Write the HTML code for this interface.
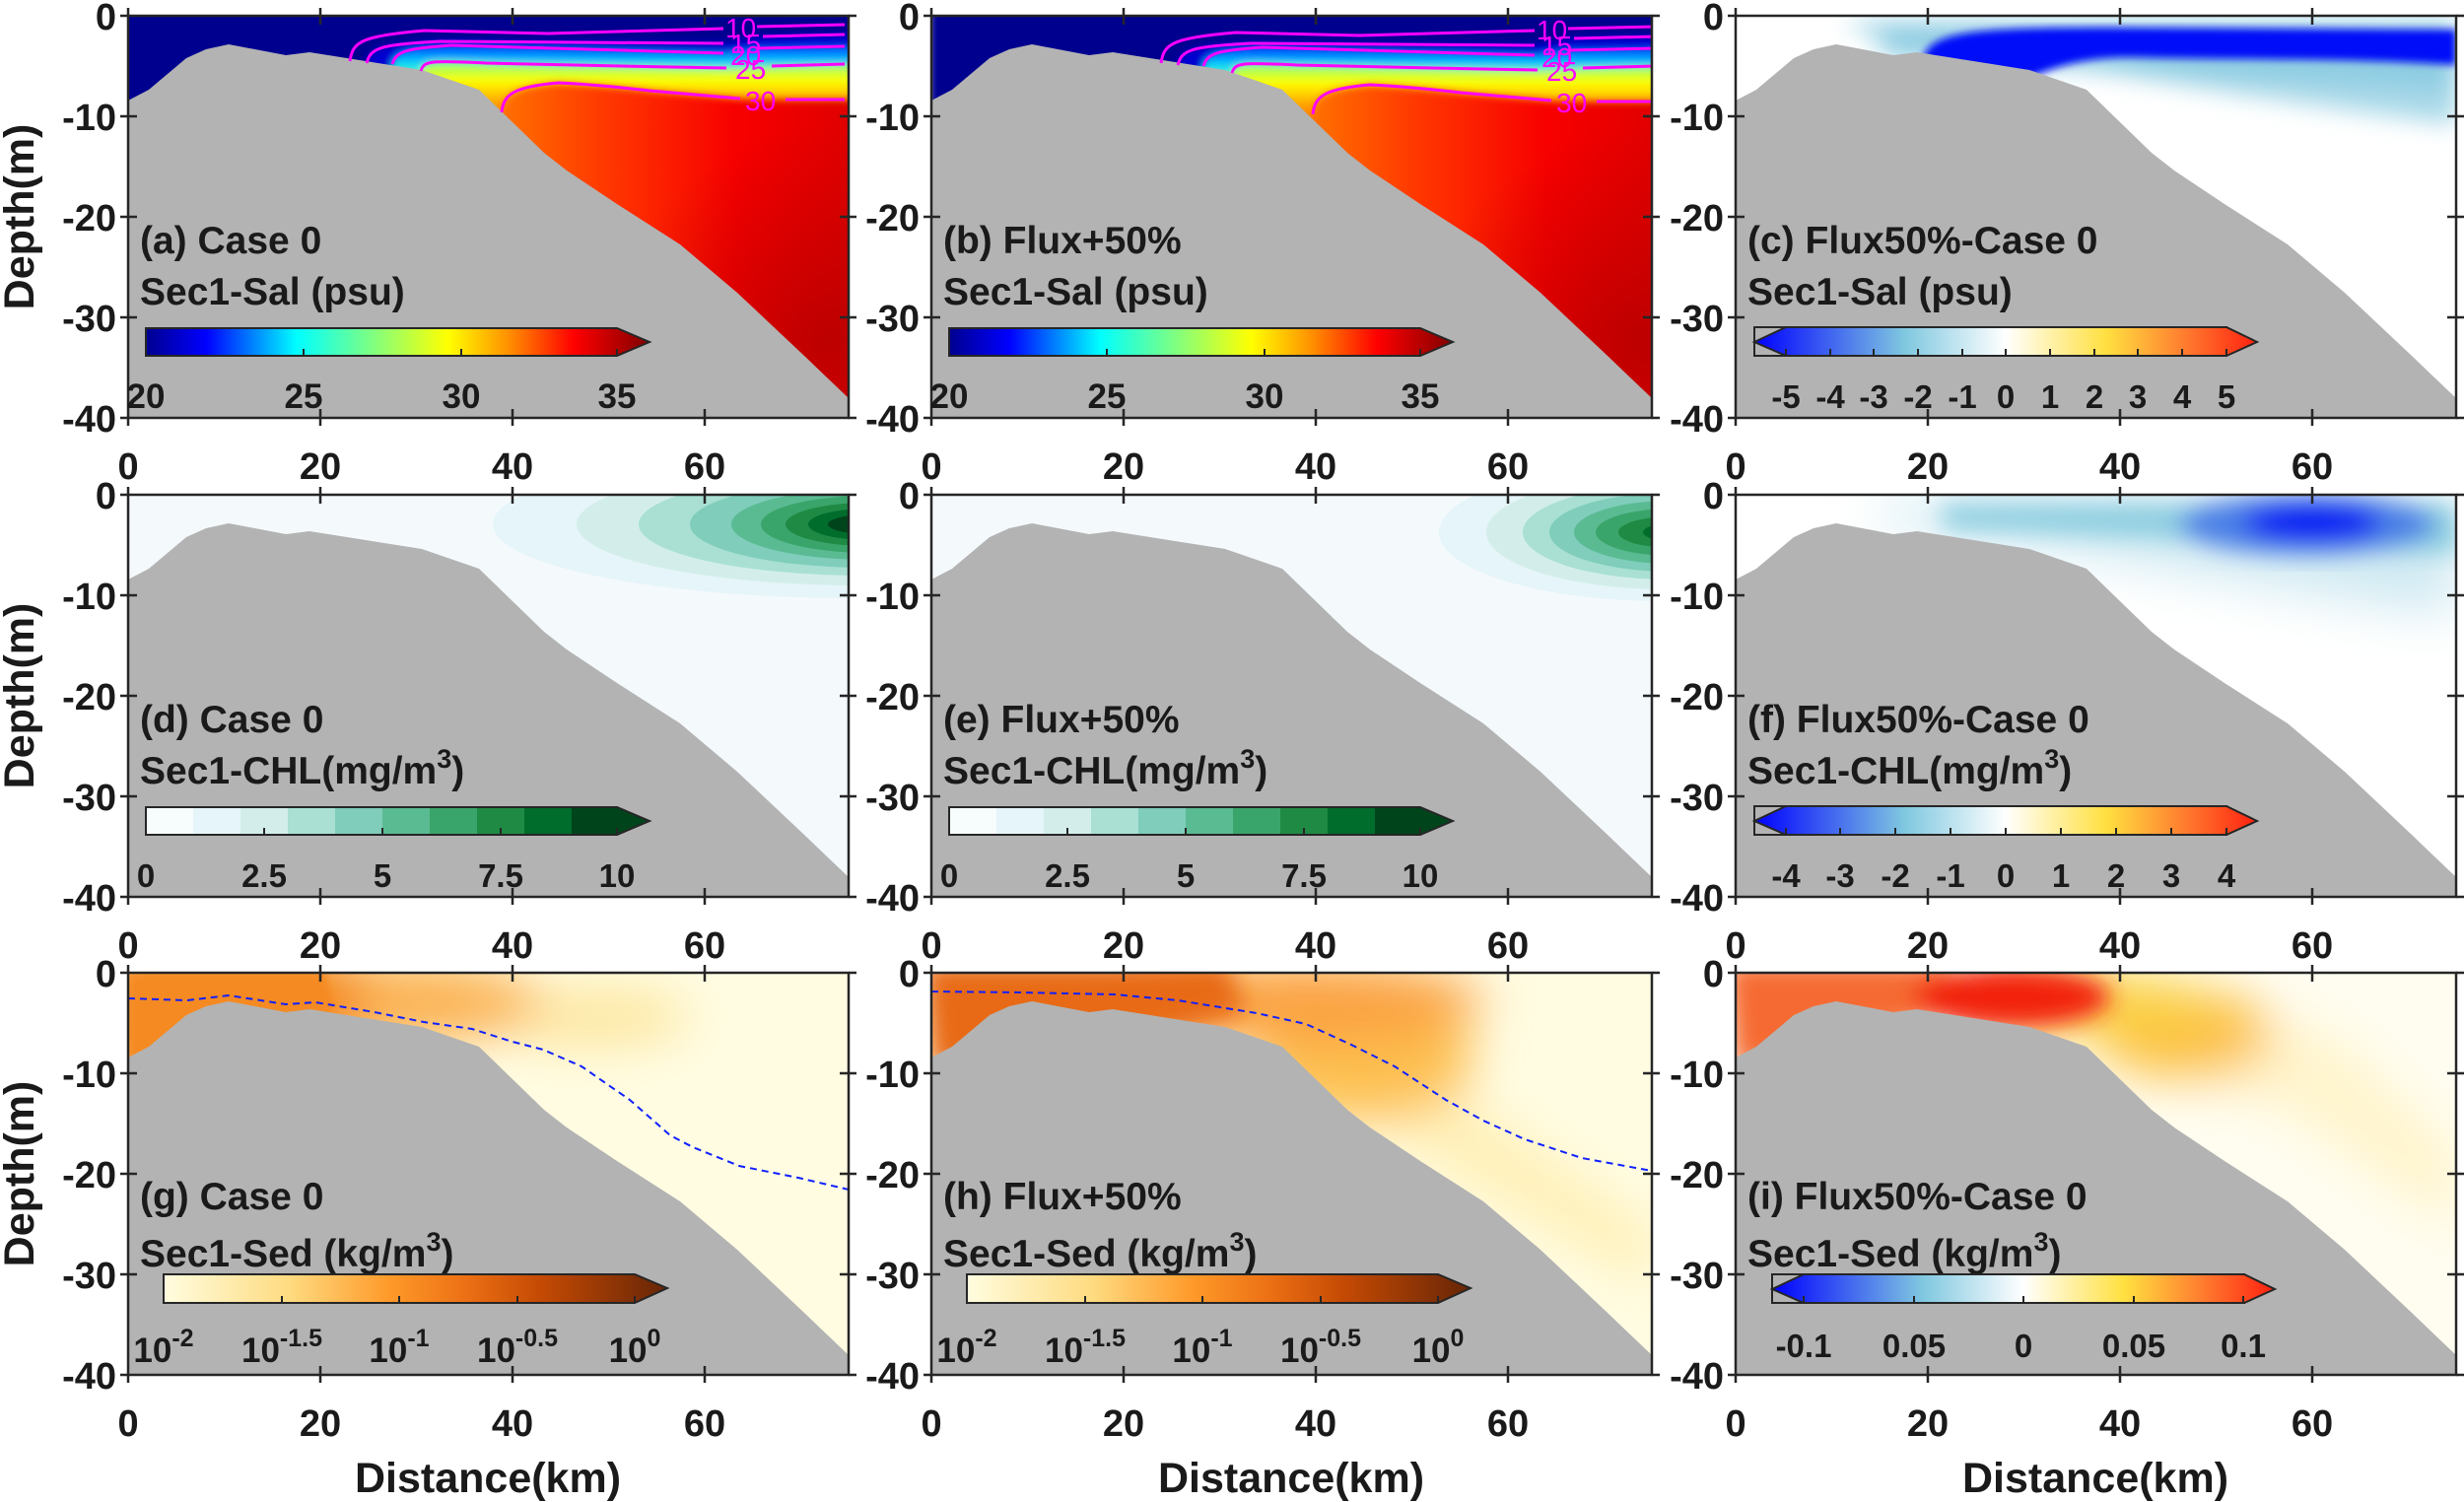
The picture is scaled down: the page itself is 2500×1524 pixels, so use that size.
<!DOCTYPE html>
<html><head><meta charset="utf-8"><style>
html,body{margin:0;padding:0;background:#fff}
svg{display:block}
text{font-family:"Liberation Sans",Arial,sans-serif;font-weight:bold;fill:#1a1a1a}
</style></head><body>
<svg width="2500" height="1524" viewBox="0 0 2500 1524" xmlns="http://www.w3.org/2000/svg">
<defs>
<clipPath id="pc"><rect x="0" y="0" width="731" height="408"/></clipPath>
<filter id="b4" x="-10%" y="-10%" width="120%" height="120%"><feGaussianBlur stdDeviation="4"/></filter>
<filter id="b12" x="-30%" y="-30%" width="160%" height="160%"><feGaussianBlur stdDeviation="12"/></filter>
<filter id="b25" x="-50%" y="-50%" width="200%" height="200%"><feGaussianBlur stdDeviation="25"/></filter>
<path id="bath" d="M0,86 L21,75 L59,43 L79,34 L102,29 L160,40 L184,37 L298,55 L356,75 L422,139 L445,157 L496,191 L560,232 L618,281 L652,313 L686,345 L710,368 L731,388 L731,410 L-2,410 Z" fill="#b3b3b3"/>
<g id="frame" fill="none" stroke="#262626" stroke-width="2.5">
<rect x="0" y="0" width="731" height="408"/>
<path d="M195,0v9M390,0v9M585,0v9M195,408v-9M390,408v-9M585,408v-9M0,102h9M0,204h9M0,306h9M731,102h-9M731,204h-9M731,306h-9M-8,0h8M-8,102h8M-8,204h8M-8,306h8M-8,408h8M0,408v8M195,408v8M390,408v8M585,408v8M0,0v-8M195,0v-8M390,0v-8M585,0v-8M731,0h8M731,102h8M731,204h8M731,306h8M731,408h8"/>
</g>
<g id="ylab" font-size="38" text-anchor="end">
<text x="-12" y="14">0</text><text x="-12" y="116">-10</text><text x="-12" y="218">-20</text><text x="-12" y="320">-30</text><text x="-12" y="422">-40</text>
</g>
<g id="xlab" font-size="38" text-anchor="middle">
<text x="0" y="470">0</text><text x="195" y="470">20</text><text x="390" y="470">40</text><text x="585" y="470">60</text>
</g>
<linearGradient id="jet" x1="0" x2="1" y1="0" y2="0">
<stop offset="0" stop-color="#00008f"/><stop offset="0.12" stop-color="#0000ff"/><stop offset="0.3" stop-color="#00ffff"/><stop offset="0.45" stop-color="#80ff80"/><stop offset="0.6" stop-color="#ffff00"/><stop offset="0.72" stop-color="#ff9000"/><stop offset="0.85" stop-color="#ff0000"/><stop offset="1" stop-color="#800000"/>
</linearGradient>
<linearGradient id="div" x1="0" x2="1" y1="0" y2="0">
<stop offset="0" stop-color="#0000ff"/><stop offset="0.3" stop-color="#80c8e0"/><stop offset="0.5" stop-color="#ffffff"/><stop offset="0.7" stop-color="#ffe040"/><stop offset="0.85" stop-color="#ff8030"/><stop offset="1" stop-color="#ff2010"/>
</linearGradient>
<linearGradient id="sed" x1="0" x2="1" y1="0" y2="0">
<stop offset="0" stop-color="#fffde0"/><stop offset="0.25" stop-color="#fedb80"/><stop offset="0.45" stop-color="#fe9929"/><stop offset="0.6" stop-color="#ec7014"/><stop offset="0.75" stop-color="#c44a04"/><stop offset="1" stop-color="#662506"/>
</linearGradient>
<linearGradient id="redH" gradientUnits="userSpaceOnUse" x1="350" x2="731" y1="0" y2="0">
<stop offset="0" stop-color="#ff8000"/><stop offset="0.35" stop-color="#ff3800"/><stop offset="0.7" stop-color="#f80000"/><stop offset="1" stop-color="#e00000"/>
</linearGradient>
<linearGradient id="g30" gradientUnits="userSpaceOnUse" x1="0" x2="0" y1="40" y2="105">
<stop offset="0" stop-color="#60ffa0"/><stop offset="0.4" stop-color="#ffff00"/><stop offset="0.75" stop-color="#ffa000"/><stop offset="1" stop-color="#ff7000"/>
</linearGradient>
<linearGradient id="g25" gradientUnits="userSpaceOnUse" x1="0" x2="0" y1="25" y2="58">
<stop offset="0" stop-color="#0010ff"/><stop offset="0.6" stop-color="#00c0ff"/><stop offset="1" stop-color="#40ffd0"/>
</linearGradient>
<radialGradient id="dkred" gradientUnits="userSpaceOnUse" cx="710" cy="330" r="220">
<stop offset="0" stop-color="#b80000" stop-opacity="0.9"/><stop offset="1" stop-color="#c00000" stop-opacity="0"/>
</radialGradient>

<g id="salfield">
<rect x="0" y="0" width="731" height="408" fill="url(#redH)"/>
<rect x="0" y="0" width="731" height="408" fill="url(#dkred)"/>
<g filter="url(#b4)">
<path d="M379,110 L379,98 C381,80 390,72 437,68 C480,70 529,76 529,76 L621,84 L667,85 L740,85 L740,-10 L-10,-10 L-10,130 Z" fill="url(#g30)"/>
<path d="M297,70 L297,56 C300,46 305,45 363,48 L500,51 L607,53 L653,51 L740,49 L740,-10 L-10,-10 L-10,130 Z" fill="url(#g25)"/>
<path d="M268,60 L268,49 C272,36 282,33 328,30 L604,38 L638,33 L740,31 L740,-10 L-10,-10 L-10,130 Z" fill="#0000d0"/>
<path d="M242,60 L242,48 C246,33 254,29 317,26 L604,28 L644,21 L740,19 L740,-10 L-10,-10 L-10,130 Z" fill="#00008f"/>
</g>
</g>
<g id="salcont" fill="none" stroke="#ff00ff" stroke-width="3">
<path d="M225,46 C228,26 236,21 300,15 L426,18 L604,13 M638,11 L727,9"/>
<path d="M242,48 C246,33 254,29 317,26 L604,28 M644,21 L727,19"/>
<path d="M268,49 C272,36 282,33 328,30 L604,38 M638,33 L727,31"/>
<path d="M297,56 C300,46 305,45 363,48 L500,51 L607,53 M653,51 L727,49"/>
<path d="M379,98 C381,80 390,72 437,68 C480,70 529,76 529,76 L621,84 M667,85 L727,85"/>
</g>
<g id="salconttxt" font-size="28">
<text x="606" y="22" style="fill:#ff00ff;font-weight:normal">10</text>
<text x="611" y="38" style="fill:#ff00ff;font-weight:normal">15</text>
<text x="611" y="50" style="fill:#ff00ff;font-weight:normal">20</text>
<text x="616" y="64" style="fill:#ff00ff;font-weight:normal">25</text>
<text x="626" y="96" style="fill:#ff00ff;font-weight:normal">30</text>
</g>

<g id="cbsal">
<path d="M18,317 H496 L529,331 L496,345 H18 Z" fill="url(#jet)" stroke="#262626" stroke-width="2"/>
<path d="M18,345v-7M178,345v-7M338,345v-7M496,345v-7" stroke="#262626" stroke-width="2"/>
<g font-size="35" text-anchor="middle"><text x="18" y="398">20</text><text x="178" y="398">25</text><text x="338" y="398">30</text><text x="496" y="398">35</text></g>
</g>
<g id="cbchl">
<rect x="18" y="317" width="48" height="28" fill="#f7fcfd"/><rect x="66" y="317" width="48" height="28" fill="#e5f5f9"/><rect x="114" y="317" width="48" height="28" fill="#d3eeea"/><rect x="162" y="317" width="48" height="28" fill="#a9e0d3"/><rect x="210" y="317" width="48" height="28" fill="#7fcdba"/><rect x="258" y="317" width="48" height="28" fill="#5abb93"/><rect x="306" y="317" width="48" height="28" fill="#3aa56a"/><rect x="354" y="317" width="48" height="28" fill="#1f8a44"/><rect x="402" y="317" width="48" height="28" fill="#006d2c"/><rect x="450" y="317" width="46" height="28" fill="#00441b"/>
<path d="M496,317 L529,331 L496,345 Z" fill="#00441b"/>
<path d="M18,317 H496 L529,331 L496,345 H18 Z" fill="none" stroke="#262626" stroke-width="2"/>
<path d="M18,345v-7M138,345v-7M258,345v-7M378,345v-7M496,345v-7" stroke="#262626" stroke-width="2"/>
<g font-size="33" text-anchor="middle"><text x="18" y="398">0</text><text x="138" y="398">2.5</text><text x="258" y="398">5</text><text x="378" y="398">7.5</text><text x="496" y="398">10</text></g>
</g>
<g id="cbdiv">
<rect x="19" y="316" width="479" height="29" fill="none" stroke="#262626" stroke-width="2"/>
<path d="M19,331 L51,316 H498 L529,331 L498,345 H51 Z" fill="url(#div)" stroke="#262626" stroke-width="2"/>
</g>
<g id="cbsed">
<path d="M36,306 H514 L547,320 L514,335 H36 Z" fill="url(#sed)" stroke="#262626" stroke-width="2"/>
<path d="M36,335v-7M156,335v-7M275,335v-7M395,335v-7M514,335v-7" stroke="#262626" stroke-width="2"/>
<g font-size="35" text-anchor="middle">
<text x="36" y="395">10<tspan dy="-16" font-size="25">-2</tspan></text>
<text x="156" y="395">10<tspan dy="-16" font-size="25">-1.5</tspan></text>
<text x="275" y="395">10<tspan dy="-16" font-size="25">-1</tspan></text>
<text x="395" y="395">10<tspan dy="-16" font-size="25">-0.5</tspan></text>
<text x="514" y="395">10<tspan dy="-16" font-size="25">0</tspan></text>
</g>
</g>
</defs>

<g font-size="43">
<text transform="translate(34,220) rotate(-90)" text-anchor="middle">Depth(m)</text>
<text transform="translate(34,706) rotate(-90)" text-anchor="middle">Depth(m)</text>
<text transform="translate(34,1191) rotate(-90)" text-anchor="middle">Depth(m)</text>
<text x="495" y="1514" text-anchor="middle">Distance(km)</text>
<text x="1310" y="1514" text-anchor="middle">Distance(km)</text>
<text x="2126" y="1514" text-anchor="middle">Distance(km)</text>
</g>

<!-- (a) -->
<g transform="translate(130,16)">
<g clip-path="url(#pc)"><use href="#salfield"/><use href="#bath"/><use href="#salcont"/></g>
<use href="#salconttxt"/>
<use href="#frame"/><use href="#ylab"/><use href="#xlab"/>
<text x="12" y="241" font-size="39">(a) Case 0</text>
<text x="12" y="293" font-size="39">Sec1-Sal (psu)</text>
<use href="#cbsal"/>
</g>
<!-- (b) -->
<g transform="translate(945,16)">
<g clip-path="url(#pc)"><g transform="translate(8,2)"><use href="#salfield"/></g><use href="#bath"/><g transform="translate(8,2)"><use href="#salcont"/></g></g>
<g transform="translate(8,2)"><use href="#salconttxt"/></g>
<use href="#frame"/><use href="#ylab"/><use href="#xlab"/>
<text x="12" y="241" font-size="39">(b) Flux+50%</text>
<text x="12" y="293" font-size="39">Sec1-Sal (psu)</text>
<use href="#cbsal"/>
</g>
<!-- (c) -->
<g transform="translate(1761,16)">
<g clip-path="url(#pc)">
<rect width="731" height="408" fill="#fff"/>
<g filter="url(#b12)">
<path d="M110,5 L731,5 L731,110 C650,100 500,80 340,50 L150,30 Z" fill="#a8d8e8"/>
<path d="M150,12 L731,12 L731,75 C600,65 400,58 300,50 L150,40 Z" fill="#8ccce2"/>
</g>
<g filter="url(#b4)">
<path d="M190,45 C195,16 240,12 380,12 L731,14 L731,50 C620,42 500,45 400,42 C330,42 300,65 290,65 L190,50 Z" fill="#0010f8"/>
</g>
<use href="#bath"/>
</g>
<use href="#frame"/><use href="#ylab"/><use href="#xlab"/>
<text x="12" y="241" font-size="39">(c) Flux50%-Case 0</text>
<text x="12" y="293" font-size="39">Sec1-Sal (psu)</text>
<use href="#cbdiv"/>
<path d="M51,345v-7M96,345v-7M140,345v-7M185,345v-7M230,345v-7M274,345v-7M319,345v-7M364,345v-7M408,345v-7M453,345v-7M498,345v-7" stroke="#262626" stroke-width="2"/>
<g font-size="33" text-anchor="middle"><text x="51" y="398">-5</text><text x="96" y="398">-4</text><text x="140" y="398">-3</text><text x="185" y="398">-2</text><text x="230" y="398">-1</text><text x="274" y="398">0</text><text x="319" y="398">1</text><text x="364" y="398">2</text><text x="408" y="398">3</text><text x="453" y="398">4</text><text x="498" y="398">5</text></g>
</g>

<!-- (d) -->
<g transform="translate(130,502)">
<g clip-path="url(#pc)">
<rect width="731" height="408" fill="#f4f9fc"/>
<ellipse cx="740" cy="30" rx="370" ry="75" fill="#e5f5f9"/>
<ellipse cx="745" cy="30" rx="290" ry="62" fill="#d3eeea"/>
<ellipse cx="748" cy="30" rx="230" ry="52" fill="#a9e0d3"/>
<ellipse cx="750" cy="30" rx="180" ry="44" fill="#7fcdba"/>
<ellipse cx="752" cy="30" rx="140" ry="36" fill="#5abb93"/>
<ellipse cx="752" cy="30" rx="110" ry="29" fill="#3aa56a"/>
<ellipse cx="752" cy="30" rx="85" ry="22" fill="#1f8a44"/>
<ellipse cx="752" cy="30" rx="62" ry="16" fill="#006d2c"/>
<ellipse cx="752" cy="30" rx="42" ry="10" fill="#00441b"/>
<use href="#bath"/>
</g>
<use href="#frame"/><use href="#ylab"/><use href="#xlab"/>
<text x="12" y="241" font-size="39">(d) Case 0</text>
<text x="12" y="293" font-size="39">Sec1-CHL(mg/m<tspan dy="-16" font-size="27">3</tspan><tspan dy="16">)</tspan></text>
<use href="#cbchl"/>
</g>
<!-- (e) -->
<g transform="translate(945,502)">
<g clip-path="url(#pc)">
<rect width="731" height="408" fill="#f4f9fc"/>
<ellipse cx="745" cy="38" rx="230" ry="70" fill="#e5f5f9"/>
<ellipse cx="748" cy="38" rx="185" ry="58" fill="#d3eeea"/>
<ellipse cx="750" cy="38" rx="150" ry="48" fill="#a9e0d3"/>
<ellipse cx="752" cy="38" rx="125" ry="40" fill="#7fcdba"/>
<ellipse cx="752" cy="38" rx="100" ry="32" fill="#5abb93"/>
<ellipse cx="752" cy="38" rx="78" ry="24" fill="#3aa56a"/>
<ellipse cx="752" cy="38" rx="55" ry="16" fill="#1f8a44"/>
<ellipse cx="752" cy="38" rx="30" ry="9" fill="#006d2c"/>
<use href="#bath"/>
</g>
<use href="#frame"/><use href="#ylab"/><use href="#xlab"/>
<text x="12" y="241" font-size="39">(e) Flux+50%</text>
<text x="12" y="293" font-size="39">Sec1-CHL(mg/m<tspan dy="-16" font-size="27">3</tspan><tspan dy="16">)</tspan></text>
<use href="#cbchl"/>
</g>
<!-- (f) -->
<g transform="translate(1761,502)">
<g clip-path="url(#pc)">
<rect width="731" height="408" fill="#fff"/>
<g filter="url(#b25)">
<path d="M150,5 L731,5 L731,120 C600,110 450,70 150,30 Z" fill="#cfe9f2"/>
</g>
<g filter="url(#b12)">
<path d="M210,10 L731,10 L731,60 C600,55 400,40 210,35 Z" fill="#8ccde0"/>
<ellipse cx="580" cy="30" rx="130" ry="30" fill="#4a7ee6"/>
<ellipse cx="585" cy="28" rx="70" ry="18" fill="#0008f4"/>
</g>
<use href="#bath"/>
</g>
<use href="#frame"/><use href="#ylab"/><use href="#xlab"/>
<text x="12" y="241" font-size="39">(f) Flux50%-Case 0</text>
<text x="12" y="293" font-size="39">Sec1-CHL(mg/m<tspan dy="-16" font-size="27">3</tspan><tspan dy="16">)</tspan></text>
<use href="#cbdiv"/>
<path d="M51,345v-7M106,345v-7M162,345v-7M218,345v-7M274,345v-7M330,345v-7M386,345v-7M442,345v-7M498,345v-7" stroke="#262626" stroke-width="2"/>
<g font-size="33" text-anchor="middle"><text x="51" y="398">-4</text><text x="106" y="398">-3</text><text x="162" y="398">-2</text><text x="218" y="398">-1</text><text x="274" y="398">0</text><text x="330" y="398">1</text><text x="386" y="398">2</text><text x="442" y="398">3</text><text x="498" y="398">4</text></g>
</g>

<!-- (g) -->
<g transform="translate(130,987)">
<g clip-path="url(#pc)">
<rect width="731" height="408" fill="#fffce2"/>
<g filter="url(#b25)">
<ellipse cx="470" cy="45" rx="100" ry="30" fill="#fde7a0"/>
<ellipse cx="270" cy="30" rx="150" ry="40" fill="#fbb050"/>
<path d="M-20,-20 L230,-20 L240,70 L-20,110 Z" fill="#f48a20"/>
</g>
<path d="M0,0 L200,0 L210,40 L0,90 Z" fill="#f58a22" filter="url(#b4)"/>
<use href="#bath"/>
<path d="M0,26 L60,28 L102,23 L160,32 L190,30 L250,40 L300,50 L349,57 L390,70 L421,78 L460,95 L509,129 L550,165 L573,177 L620,196 L680,208 L731,220" fill="none" stroke="#1020ff" stroke-width="2" stroke-dasharray="7,5"/>
</g>
<use href="#frame"/><use href="#ylab"/>
<g font-size="38" text-anchor="middle"><text x="0" y="470">0</text><text x="195" y="470">20</text><text x="390" y="470">40</text><text x="585" y="470">60</text></g>
<text x="12" y="240" font-size="39">(g) Case 0</text>
<text x="12" y="298" font-size="39">Sec1-Sed (kg/m<tspan dy="-16" font-size="27">3</tspan><tspan dy="16">)</tspan></text>
<use href="#cbsed"/>
</g>
<!-- (h) -->
<g transform="translate(945,987)">
<g clip-path="url(#pc)">
<rect width="731" height="408" fill="#fffce2"/>
<g filter="url(#b25)">
<path d="M380,60 L560,140 L731,260 L731,320 L520,200 L400,120 Z" fill="#fff0b8"/>
<ellipse cx="440" cy="90" rx="110" ry="60" fill="#fdc050"/>
<ellipse cx="380" cy="30" rx="180" ry="40" fill="#fba040"/>
</g>
<path d="M-10,-10 L300,-10 L320,40 L250,60 L0,100 Z" fill="#e86a14" filter="url(#b12)"/>
<use href="#bath"/>
<path d="M0,19 L90,20 L186,22 L250,28 L330,41 L380,52 L426,73 L470,95 L522,129 L560,150 L602,169 L660,188 L731,201" fill="none" stroke="#1020ff" stroke-width="2" stroke-dasharray="7,5"/>
</g>
<use href="#frame"/><use href="#ylab"/>
<g font-size="38" text-anchor="middle"><text x="0" y="470">0</text><text x="195" y="470">20</text><text x="390" y="470">40</text><text x="585" y="470">60</text></g>
<text x="12" y="240" font-size="39">(h) Flux+50%</text>
<text x="12" y="298" font-size="39">Sec1-Sed (kg/m<tspan dy="-16" font-size="27">3</tspan><tspan dy="16">)</tspan></text>
<use href="#cbsed"/>
</g>
<!-- (i) -->
<g transform="translate(1761,987)">
<g clip-path="url(#pc)">
<rect width="731" height="408" fill="#fffdf0"/>
<g filter="url(#b25)">
<path d="M300,20 L600,60 L731,180 L731,260 L560,140 L400,90 Z" fill="#fff4cc"/>
<ellipse cx="455" cy="62" rx="90" ry="45" fill="#fcc040"/>
<ellipse cx="360" cy="30" rx="120" ry="30" fill="#fbd040"/>
</g>
<g filter="url(#b12)">
<path d="M-10,-10 L220,-10 L220,40 L0,100 Z" fill="#f56a30"/>
<ellipse cx="280" cy="25" rx="100" ry="30" fill="#f22010"/>
</g>
<use href="#bath"/>
</g>
<use href="#frame"/><use href="#ylab"/>
<g font-size="38" text-anchor="middle"><text x="0" y="470">0</text><text x="195" y="470">20</text><text x="390" y="470">40</text><text x="585" y="470">60</text></g>
<text x="12" y="240" font-size="39">(i) Flux50%-Case 0</text>
<text x="12" y="298" font-size="39">Sec1-Sed (kg/m<tspan dy="-16" font-size="27">3</tspan><tspan dy="16">)</tspan></text>
<g transform="translate(18,-10)"><use href="#cbdiv"/></g>
<path d="M69,335v-7M181,335v-7M292,335v-7M404,335v-7M515,335v-7" stroke="#262626" stroke-width="2"/>
<g font-size="33" text-anchor="middle"><text x="69" y="390">-0.1</text><text x="181" y="390">0.05</text><text x="292" y="390">0</text><text x="404" y="390">0.05</text><text x="515" y="390">0.1</text></g>
</g>
</svg>
</body></html>
